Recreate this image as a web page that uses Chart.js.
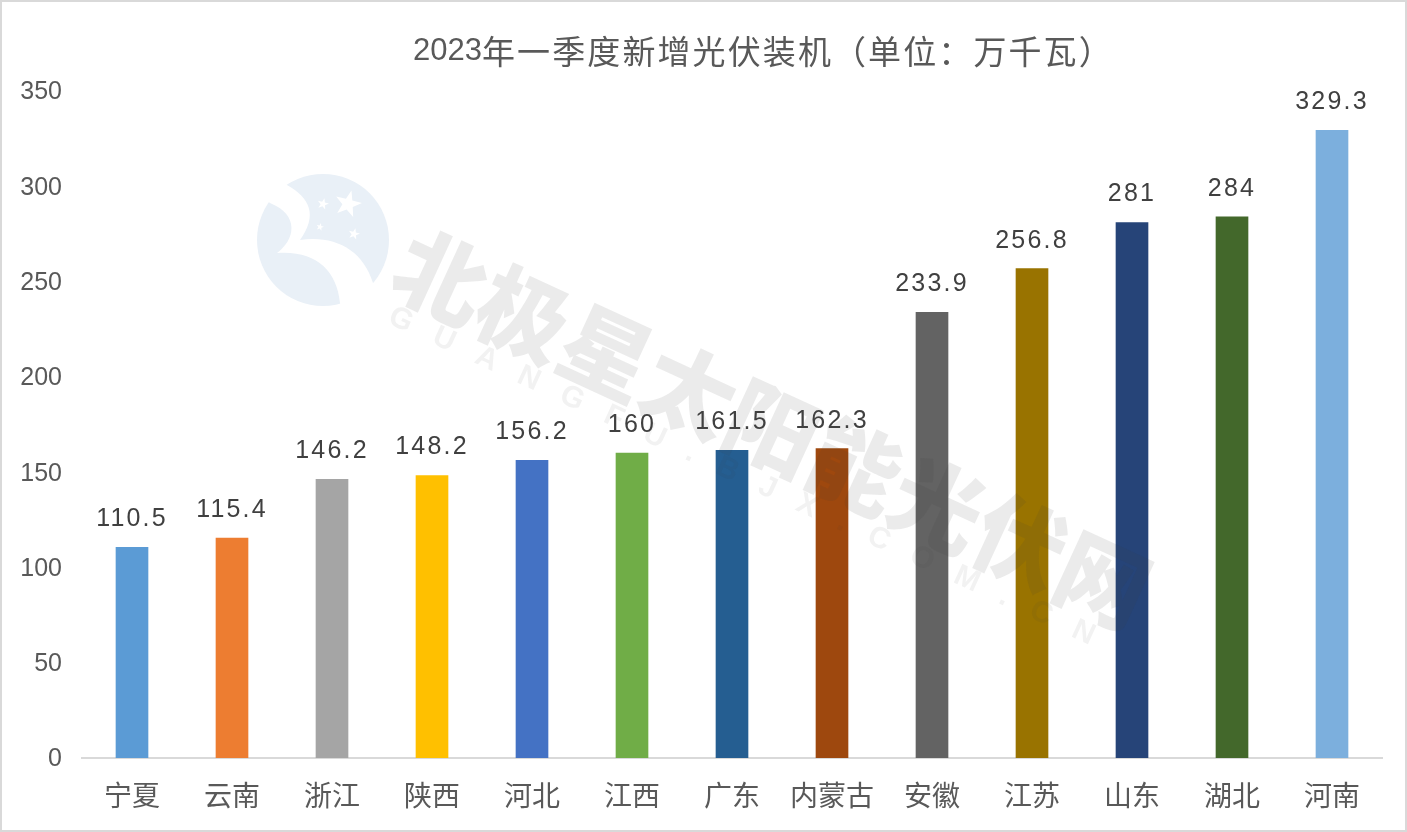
<!DOCTYPE html>
<html>
<head>
<meta charset="utf-8">
<style>
html, body { margin: 0; padding: 0; background: #fff; }
#wrap { width: 1407px; height: 832px; position: relative; }
canvas { display: block; }
</style>
</head>
<body>
<div id="wrap"><canvas id="chart" width="1407" height="832"></canvas></div>
<script src="https://cdn.jsdelivr.net/npm/chart.js@4/dist/chart.umd.min.js"></script>
<script>
const provinces = ["宁夏", "云南", "浙江", "陕西", "河北", "江西", "广东", "内蒙古", "安徽", "江苏", "山东", "湖北", "河南"];
const installed = [110.5, 115.4, 146.2, 148.2, 156.2, 160, 161.5, 162.3, 233.9, 256.8, 281, 284, 329.3];
const barColors = ["#5b9bd5", "#ed7d31", "#a5a5a5", "#ffc000", "#4472c4", "#70ad47", "#255e91", "#9e480e", "#636363", "#997300", "#264478", "#43682b", "#7cafdd"];
const titleYear = "2023";
const titleRest = "年一季度新增光伏装机（单位：万千瓦）";

const fontName = "'Liberation Sans', 'Noto Sans CJK SC', sans-serif";

// labels above bars
const barLabels = {
    id: "barLabels",
    afterDatasetsDraw(chart) {
        const c = chart.ctx;
        const bars = chart.getDatasetMeta(0).data;
        c.save();
        c.font = "25px " + fontName;
        c.fillStyle = "#404040";
        c.textAlign = "center";
        c.textBaseline = "middle";
        c.letterSpacing = "2.2px";
        bars.forEach((bar, i) => {
            c.fillText(String(installed[i]), bar.x, bar.y - 28);
        });
        c.restore();
    },
};

// title sits right of the chart centre, and its CJK is wider than its digits
const titleText = {
    id: "titleText",
    afterDraw(chart) {
        const c = chart.ctx;
        c.save();
        c.fillStyle = "#595959";
        c.textAlign = "left";
        c.textBaseline = "middle";
        c.font = "31px " + fontName;
        c.fillText(titleYear, 413, 51);
        c.font = "33px 'Noto Sans CJK SC', sans-serif";
        c.letterSpacing = "2.1px";
        c.fillText(titleRest, 482, 51);
        c.restore();
    },
};

function star(c, x, y, r) {
    c.beginPath();
    for (let i = 0; i < 10; i++) {
        const rad = i % 2 ? r * 0.4 : r;
        const a = -Math.PI / 2 + 0.25 + i * Math.PI / 5;
        c.lineTo(x + rad * Math.cos(a), y + rad * Math.sin(a));
    }
    c.closePath();
    c.fill();
}

// faint source watermark over the whole plot
const watermark = {
    id: "watermark",
    afterDatasetsDraw(chart) {
        const c = chart.ctx;
        c.save();
        c.fillStyle = "#e9f0f7";
        c.beginPath();
        c.arc(323, 240, 66, 0, Math.PI * 2);
        c.fill();
        // white swoosh and stars of the logo
        c.fillStyle = "#ffffff";
        c.beginPath();
        c.moveTo(287, 185);
        c.bezierCurveTo(310, 198, 318, 215, 300, 240);
        c.bezierCurveTo(335, 235, 363, 250, 373, 283);
        c.lineTo(390, 300);
        c.lineTo(345, 320);
        c.lineTo(340, 303);
        c.bezierCurveTo(337, 270, 315, 250, 277, 253);
        c.bezierCurveTo(295, 240, 300, 215, 270, 203);
        c.lineTo(255, 190);
        c.lineTo(275, 170);
        c.closePath();
        c.fill();
        star(c, 348, 204, 14);
        star(c, 323, 204, 6);
        star(c, 320, 227, 4);
        star(c, 354, 234, 6);

        c.translate(400, 258);
        c.rotate(0.43);
        c.fillStyle = "rgba(60,60,60,0.1)";
        c.font = "900 91px 'Noto Sans CJK SC', sans-serif";
        c.textBaseline = "middle";
        c.fillText("北极星太阳能光伏网", 0, 0);
        c.fillStyle = "rgba(60,60,60,0.065)";
        c.font = "bold 30px 'Liberation Sans', sans-serif";
        c.letterSpacing = "25px";
        c.fillText("GUANGFU.BJX.COM.CN", 15, 56);
        c.restore();
    },
};

// grey frame around the chart area
const frame = {
    id: "frame",
    beforeDraw(chart) {
        const c = chart.ctx;
        c.save();
        c.fillStyle = "#ffffff";
        c.fillRect(0, 0, chart.width, chart.height);
        c.strokeStyle = "#d9d9d9";
        c.lineWidth = 2;
        c.strokeRect(1, 1, chart.width - 2, chart.height - 2);
        c.restore();
    },
};

new Chart(document.getElementById("chart"), {
    type: "bar",
    data: {
        labels: provinces,
        datasets: [
            {
                data: installed,
                backgroundColor: barColors,
                barThickness: 32,
            },
        ],
    },
    options: {
        responsive: false,
        animation: false,
        layout: {
            padding: { left: 0, right: 25, top: 91, bottom: 0 },
        },
        scales: {
            x: {
                grid: { display: false },
                border: { color: "#d9d9d9", width: 2 },
                afterFit(scale) { scale.height = 74; },
                ticks: {
                    color: "#595959",
                    font: { size: 28, family: fontName },
                    maxRotation: 0,
                    autoSkip: false,
                    padding: 15,
                },
            },
            y: {
                min: 0,
                max: 350,
                grid: { display: false },
                border: { display: false },
                afterFit(scale) { scale.width = 82; },
                ticks: {
                    stepSize: 50,
                    color: "#595959",
                    font: { size: 25, family: fontName },
                    padding: 12,
                    labelOffset: 1.5,
                },
            },
        },
        plugins: {
            legend: { display: false },
            tooltip: { enabled: false },
            title: { display: false },
        },
    },
    plugins: [frame, watermark, barLabels, titleText],
});
</script>
</body>
</html>
